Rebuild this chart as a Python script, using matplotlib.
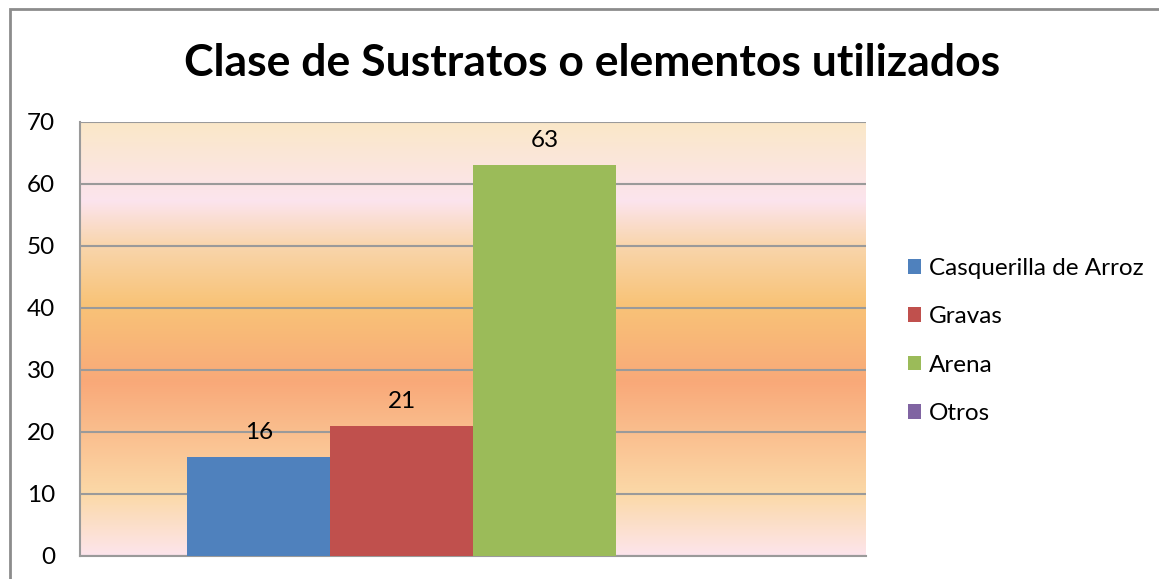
import matplotlib
matplotlib.use("Agg")
import matplotlib.pyplot as plt
import numpy as np
from matplotlib.colors import LinearSegmentedColormap
from matplotlib.patches import Rectangle

title = "Clase de Sustratos o elementos utilizados"
series = ["Casquerilla de Arroz", "Gravas", "Arena", "Otros"]
values = [16, 21, 63, 0]
colors = ["#4F81BD", "#C0504D", "#9BBB59", "#8064A2"]
yticks = [0, 10, 20, 30, 40, 50, 60, 70]

plt.rcParams['font.family'] = ['Lato', 'DejaVu Sans']

fig = plt.figure(figsize=(11.59, 5.79), dpi=100)
ax = fig.add_axes([80/1159, 23/579, 786/1159, 434/579])

# gradient background
stops = [(0.0, "#FDE5EC"), (0.14, "#FBD9A8"), (0.40, "#F9A979"),
         (0.58, "#F8C377"), (0.72, "#F9D6AE"), (0.82, "#FCE4EE"), (1.0, "#FAE8C8")]
cmap = LinearSegmentedColormap.from_list("bg", stops)
grad = np.linspace(0, 1, 256).reshape(-1, 1)
ax.imshow(grad, cmap=cmap, origin="lower", aspect="auto",
          extent=[-2.75, 2.75, 0, 70], zorder=0)

ax.set_xlim(-2.75, 2.75)
ax.set_ylim(0, 70)

offsets = [-1.5, -0.5, 0.5, 1.5]
for off, v, c, lab in zip(offsets, values, colors, series):
    ax.bar(off, v, width=1.0, color=c, label=lab, zorder=3)
    if v > 0:
        ax.text(off, v + 2.3, str(v), ha="center", va="bottom", fontsize=17.5, color="#000000", zorder=4)

ax.set_yticks(yticks)
ax.set_xticks([])
ax.yaxis.grid(True, color="#9A9A9A", linewidth=1.5, zorder=1)
ax.set_axisbelow(False)
for gl in ax.get_ygridlines():
    gl.set_zorder(1)
ax.tick_params(axis="y", length=0, labelsize=17.5, pad=18, labelcolor="#000000")
for s in ["top", "right"]:
    ax.spines[s].set_visible(False)
for s in ["left", "bottom"]:
    ax.spines[s].set_color("#9A9A9A")
    ax.spines[s].set_linewidth(1.5)

fig.text(592/1159, 1 - 63/579, title, ha="center", va="center", fontsize=32, fontweight="bold")

leg = ax.legend(loc="center left", bbox_to_anchor=(886/1159, 1 - 341/579), bbox_transform=fig.transFigure,
                frameon=False, fontsize=17.5, handlelength=0.55, handleheight=0.55, handletextpad=0.32,
                labelspacing=1.12)

# outer border
fig.patches.append(Rectangle((10/1159, -0.1), 1.2, 1 - 9/579 + 0.1, transform=fig.transFigure,
                             fill=False, edgecolor="#8C8C8C", linewidth=2))

fig.savefig("out.png", dpi=100)
